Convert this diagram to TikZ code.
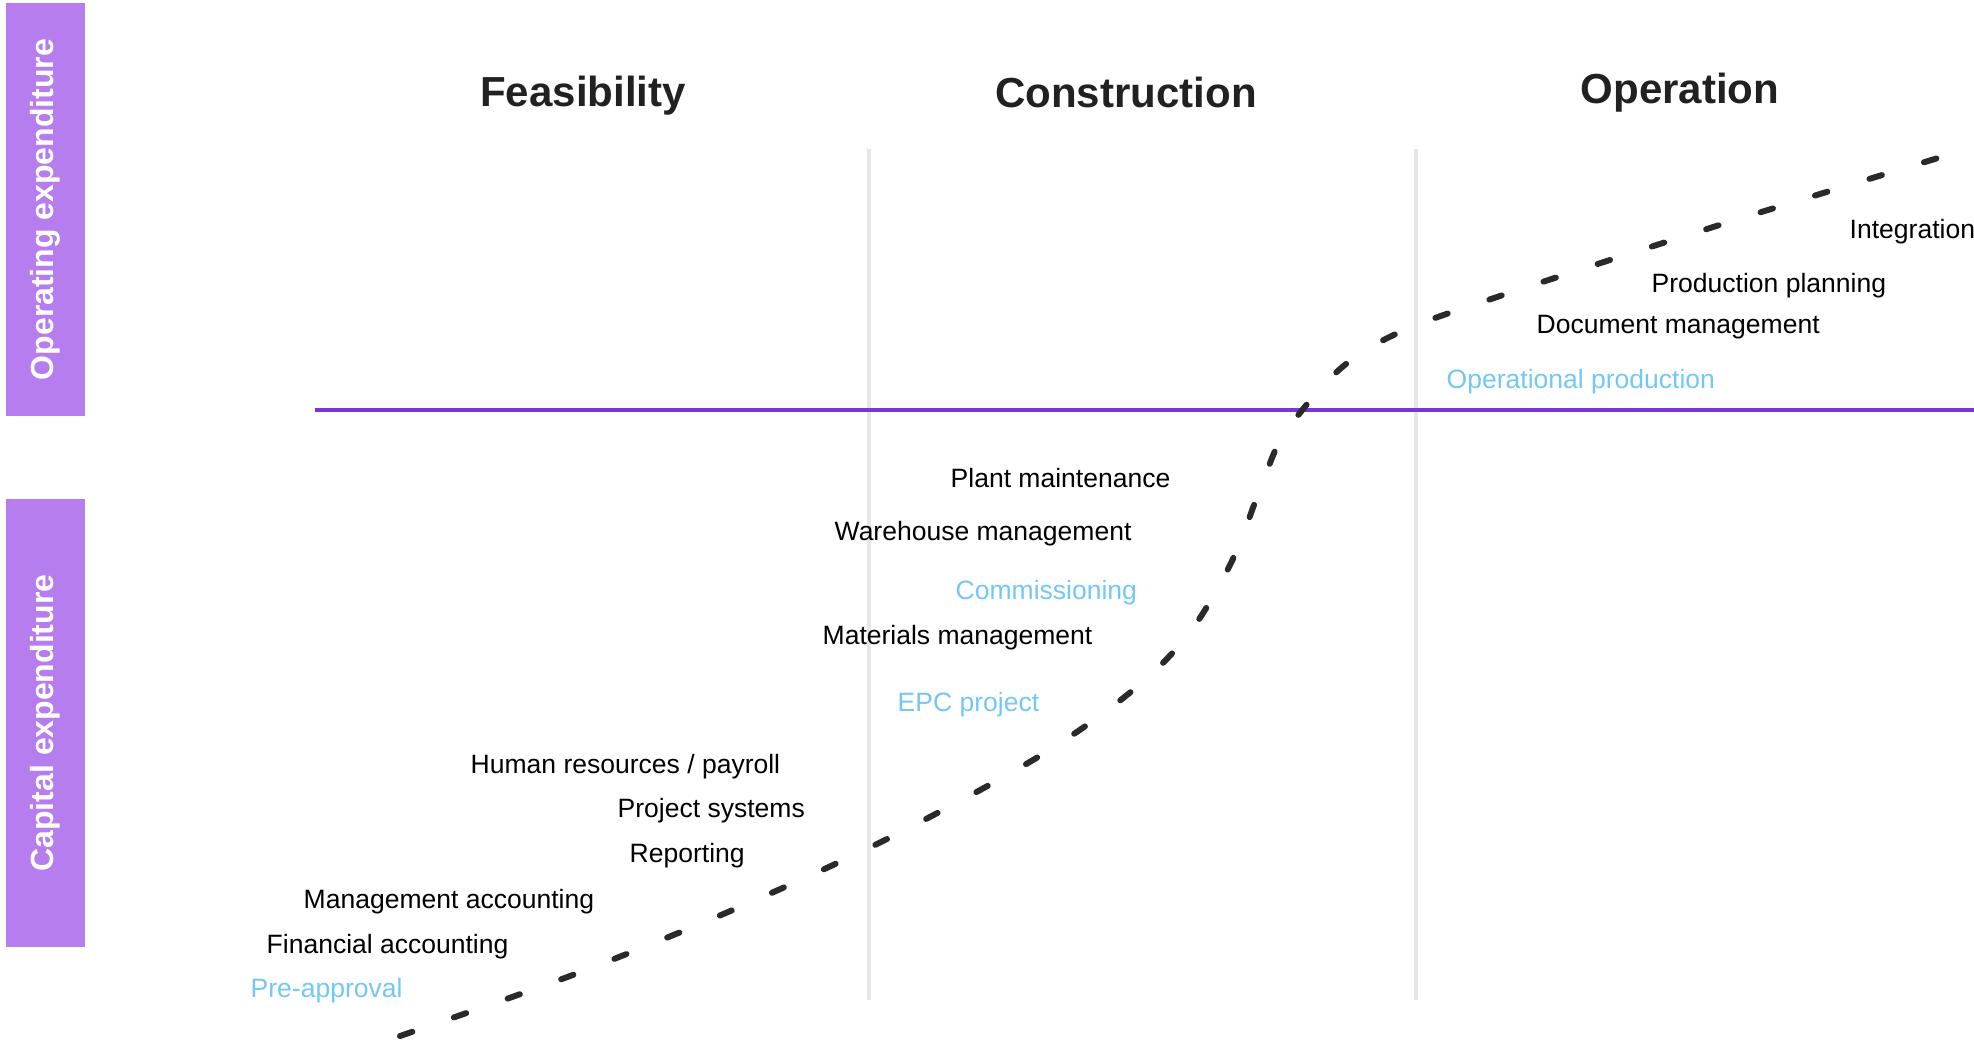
\documentclass[tikz,border=0pt]{standalone}
\usepackage{fontspec}
\setmainfont{Liberation Sans}
\usetikzlibrary{arrows}

\definecolor{boxpurple}{RGB}{181,125,237}
\definecolor{axispurple}{RGB}{122,52,222}
\definecolor{phasegray}{RGB}{230,230,230}
\definecolor{stepblue}{RGB}{115,199,245}
\definecolor{curvegray}{RGB}{42,42,42}

\begin{document}
\begin{tikzpicture}[x=0.01cm,y=-0.01cm,
    phase/.style={font=\fontsize{11.95}{14}\selectfont\bfseries,text=black!87,anchor=base,inner sep=0pt},
    item/.style={font=\fontsize{7.54}{9}\selectfont,anchor=base west,inner sep=0pt},
    milestone/.style={item,text=stepblue},
    side box/.style={fill=boxpurple,text=white,rotate=90,inner sep=0pt,
                     minimum height=0.79cm,font=\fontsize{9.1}{11}\selectfont\bfseries},
    divider/.style={draw=phasegray,line width=1.4pt},
    trend/.style={draw=curvegray,line width=1.7pt,line cap=round,dash pattern=on 3.7pt off 12.5pt}]
  \useasboundingbox (0,0) rectangle (1974,1041);

  % side boxes
  \node[side box,minimum width=4.13cm] (opex) at (45.5,209.5) {Operating expenditure};
  \node[side box,minimum width=4.48cm] (capex) at (45.5,723) {Capital expenditure};

  % phases
  \node[phase] (feas) at (583,106) {Feasibility};
  \node[phase] (cons) at (1126,107) {Construction};
  \node[phase] (oper) at (1680,103) {Operation};

  \coordinate (d1top) at (869,149);
  \coordinate (d1bot) at (869,1000);
  \coordinate (d2top) at (1416,149);
  \coordinate (d2bot) at (1416,1000);
  \draw[divider] (d1top) -- (d1bot);
  \draw[divider] (d2top) -- (d2bot);

  \coordinate (axisl) at (315,410);
  \coordinate (axisr) at (1974,410);
  \draw[axispurple,line width=1.15pt] (axisl) -- (axisr);

  % the curve
  \draw[trend] plot[smooth,tension=0.55] coordinates {
    (400,1036) (570,976) (728,912) (883,841) (1033,760) (1127,695)
    (1187,636) (1231,563) (1262,484) (1285,433) (1340,369) (1400,332)
    (1494,298) (1710,228) (1938,158)};

  % operation
  \node[item] (integ) at (1849,238) {Integration};
  \node[item] (prodplan) at (1651,292) {Production planning};
  \node[item] (docmgmt) at (1536,333) {Document management};
  \node[milestone] (opprod) at (1446,388) {Operational production};

  % construction
  \node[item] (plant) at (950,487) {Plant maintenance};
  \node[item] (whouse) at (834,540) {Warehouse management};
  \node[milestone] (commis) at (955,599) {Commissioning};
  \node[item] (matmgmt) at (822,644) {Materials management};
  \node[milestone] (epc) at (897,711) {EPC project};

  % feasibility
  \node[item] (hr) at (470,773) {Human resources / payroll};
  \node[item] (projsys) at (617,817) {Project systems};
  \node[item] (report) at (629,862) {Reporting};
  \node[item] (mgmtacc) at (303,908) {Management accounting};
  \node[item] (finacc) at (266,953) {Financial accounting};
  \node[milestone] (preapp) at (250,997) {Pre-approval};
\end{tikzpicture}
\end{document}
